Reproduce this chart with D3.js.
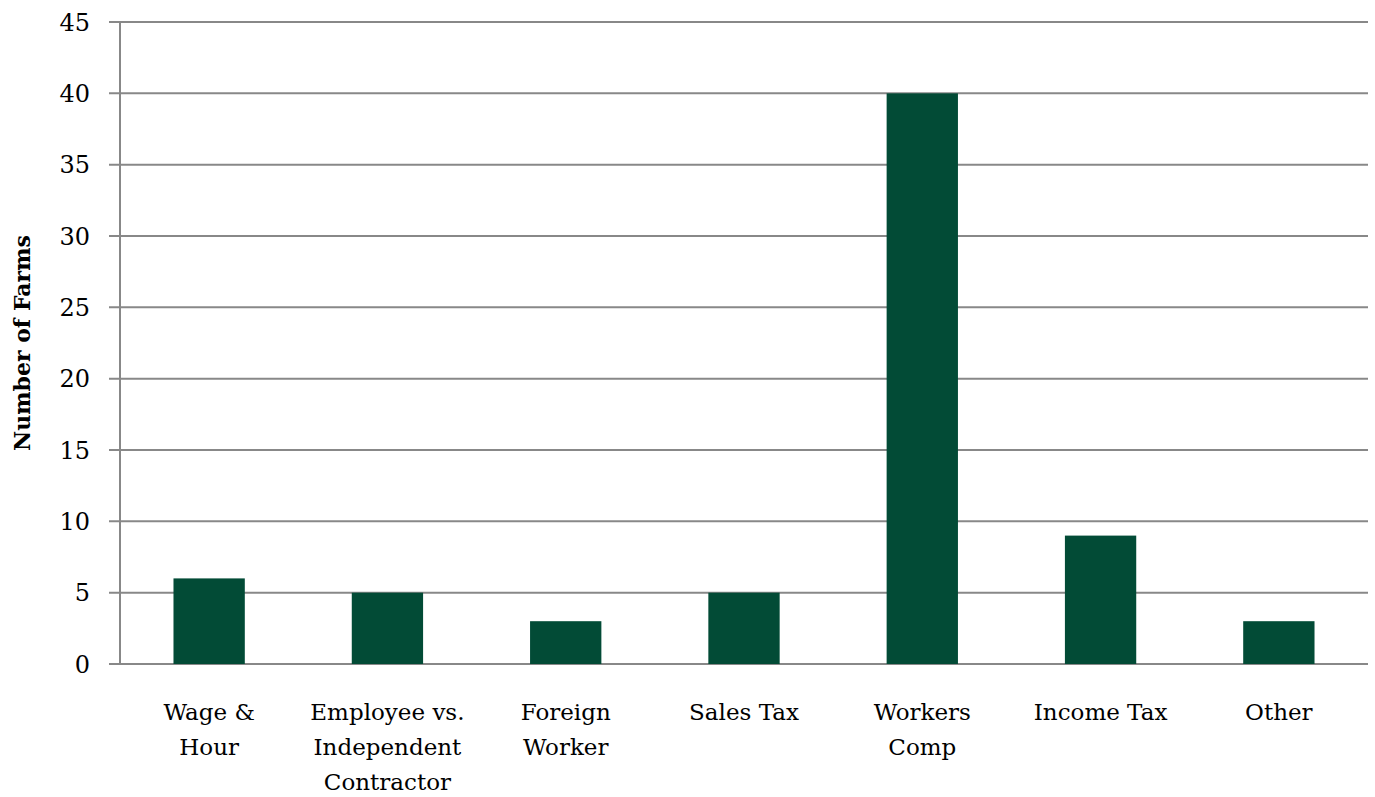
<!DOCTYPE html>
<html><head><meta charset="utf-8">
<script src="https://cdn.jsdelivr.net/npm/d3@7"></script>
<style>body{margin:0;background:#fff}svg{display:block}</style>
</head><body><svg id="c" width="1375" height="797"></svg>
<script>
const categories = [["Wage &","Hour"],["Employee vs.","Independent","Contractor"],["Foreign","Worker"],["Sales Tax"],["Workers","Comp"],["Income Tax"],["Other"]];
const values = [6,5,3,5,40,9,3];
const yTicks = [0,5,10,15,20,25,30,35,40,45];
const yTitle = "Number of Farms";

const svg = d3.select("#c");
const font = "'DejaVu Serif', serif";
const L = 120, R = 1368, T = 22, B = 664;
const x = d3.scaleBand().domain(d3.range(categories.length)).range([L, R]).paddingInner(0.6).paddingOuter(0.3);
const y = d3.scaleLinear().domain([0,45]).range([B, T]);

svg.append("g").selectAll("line").data(yTicks).join("line")
  .attr("x1", L - 11).attr("x2", R).attr("y1", d => y(d)).attr("y2", d => y(d))
  .attr("stroke", "#888").attr("stroke-width", 2);
svg.append("line").attr("x1", L).attr("x2", L).attr("y1", T).attr("y2", B).attr("stroke", "#888").attr("stroke-width", 2);

svg.append("g").selectAll("rect").data(values).join("rect")
  .attr("x", (d,i) => x(i)).attr("width", x.bandwidth())
  .attr("y", d => y(d)).attr("height", d => B - y(d))
  .attr("fill", "#024b36");

svg.append("g").selectAll("text").data(yTicks).join("text")
  .attr("x", 90).attr("y", d => y(d)).attr("dy", "0.36em")
  .attr("text-anchor", "end").attr("font-family", font).attr("font-size", 24).attr("fill", "#000")
  .text(d => d);

const x0 = 720, lh = 35;
const xl = svg.append("g").selectAll("text").data(categories).join("text")
  .attr("x", (d,i) => x(i) + x.bandwidth()/2).attr("y", x0)
  .attr("text-anchor", "middle").attr("font-family", font).attr("font-size", 23).attr("fill", "#000");
xl.each(function(d){
  const t = d3.select(this);
  d.forEach((line, j) => t.append("tspan").attr("x", t.attr("x")).attr("y", x0 + j*lh).text(line));
});

svg.append("text").attr("transform", "translate(30,343) rotate(-90)")
  .attr("text-anchor", "middle").attr("font-family", font).attr("font-size", 22).attr("font-weight", "bold")
  .text(yTitle);
</script></body></html>
